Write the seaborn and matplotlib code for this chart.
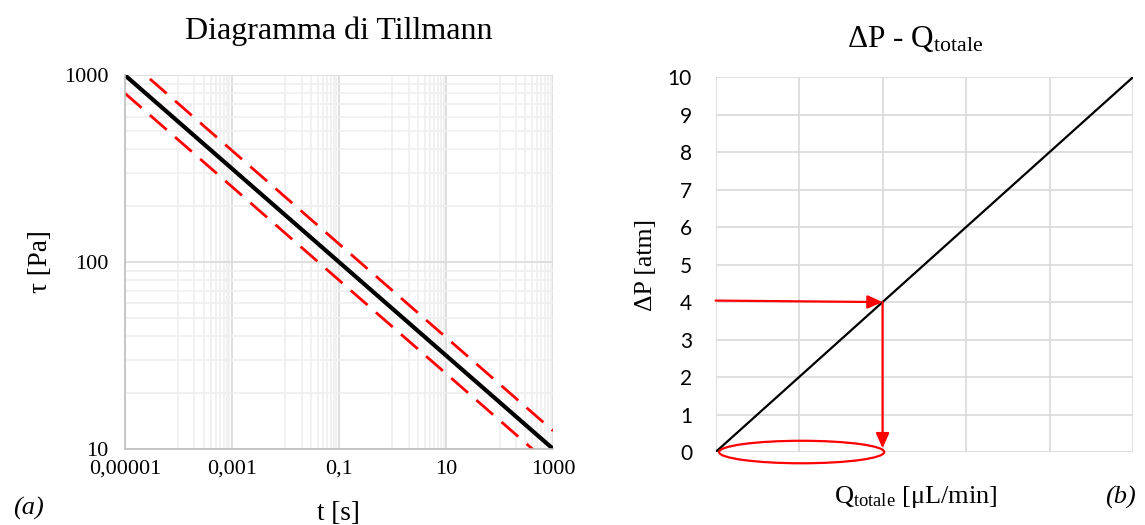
import numpy as np
import seaborn as sns
import matplotlib.pyplot as plt
import matplotlib.ticker as mticker
from matplotlib.patches import Ellipse

sns.set_style("white")
plt.rcParams['font.family'] = ['Liberation Serif', 'DejaVu Serif']
plt.rcParams['mathtext.fontset'] = 'custom'
plt.rcParams['mathtext.rm'] = 'Liberation Serif'
plt.rcParams['mathtext.it'] = 'Liberation Serif:italic'
plt.rcParams['text.color'] = 'black'
plt.rcParams['axes.labelcolor'] = 'black'
plt.rcParams['xtick.color'] = 'black'
plt.rcParams['ytick.color'] = 'black'

# (a) Tillmann diagram
t_ends = [1e-5, 1000]
tau_mid = [1000, 10]
tau_upper = [1250, 12.5]
tau_lower = [800, 8]
t_ticks = [1e-5, 1e-3, 1e-1, 10, 1000]
t_labels = ["0,00001", "0,001", "0,1", "10", "1000"]
tau_ticks = [10, 100, 1000]
tau_labels = ["10", "100", "1000"]

# (b) dP - Q
q_vals = [0, 5]
dp_vals = [0, 10]
q_op = 2
dp_op = 4
dp_ticks = list(range(0, 11))

fig = plt.figure(figsize=(11.45, 5.25), dpi=100)
ax1 = fig.add_axes([0.109, 0.145, 0.374, 0.712])
ax2 = fig.add_axes([0.625, 0.139, 0.3645, 0.714])

grid_major = "#d9d9d9"
grid_minor = "#efefef"

sns.lineplot(x=t_ends, y=tau_upper, ax=ax1, color="#ff0000", lw=2.0)
sns.lineplot(x=t_ends, y=tau_lower, ax=ax1, color="#ff0000", lw=2.0)
sns.lineplot(x=t_ends, y=tau_mid, ax=ax1, color="black", lw=3.0)
ax1.lines[0].set_dashes((8, 4))
ax1.lines[1].set_dashes((8, 4))
ax1.set_xscale("log")
ax1.set_yscale("log")
ax1.set_xlim(1e-5, 1000)
ax1.set_ylim(10, 1000)

# Excel-like log axis: major every two decades, minor 10x..90x of each major
x_minor = [m * 10 * k for m in t_ticks[:-1] for k in range(1, 10)]
ax1.xaxis.set_major_locator(mticker.FixedLocator(t_ticks))
ax1.xaxis.set_major_formatter(mticker.FixedFormatter(t_labels))
ax1.xaxis.set_minor_locator(mticker.FixedLocator(x_minor))
ax1.xaxis.set_minor_formatter(mticker.NullFormatter())
ax1.yaxis.set_major_locator(mticker.FixedLocator(tau_ticks))
ax1.yaxis.set_major_formatter(mticker.FixedFormatter(tau_labels))
ax1.yaxis.set_minor_locator(mticker.LogLocator(base=10, subs=np.arange(2, 10), numticks=100))
ax1.yaxis.set_minor_formatter(mticker.NullFormatter())
ax1.grid(True, which="minor", color=grid_minor, lw=1.2)
ax1.grid(True, which="major", color=grid_major, lw=1.2)
ax1.set_axisbelow(True)
ax1.tick_params(which="both", length=0, labelsize=16)
ax1.tick_params(axis="x", pad=8)
ax1.tick_params(axis="y", pad=12)
for s in ["top", "right"]:
    ax1.spines[s].set_visible(False)
for s in ["left", "bottom"]:
    ax1.spines[s].set_color("#bfbfbf")
    ax1.spines[s].set_linewidth(1.2)
ax1.set_title("Diagramma di Tillmann", fontsize=23, pad=26)
ax1.set_xlabel("t [s]", fontsize=19.5, labelpad=16)
ax1.set_ylabel("τ [Pa]", fontsize=19.5, labelpad=8)

sns.lineplot(x=q_vals, y=dp_vals, ax=ax2, color="black", lw=1.6)
ax2.set_xlim(0, 5)
ax2.set_ylim(0, 10)
ax2.set_yticks(dp_ticks)
ax2.set_xticks(np.arange(0, 6))
ax2.set_xticklabels([])
ax2.grid(True, color=grid_major, lw=1.2)
ax2.set_axisbelow(True)
ax2.tick_params(length=0, pad=17)
for lab in ax2.get_yticklabels():
    lab.set_family(["Lato", "DejaVu Sans"])
    lab.set_fontsize(15)
for s in ax2.spines.values():
    s.set_visible(False)
ax2.annotate("", xy=(q_op, dp_op), xytext=(0, dp_op + 0.04),
             arrowprops=dict(arrowstyle="-|>,head_length=0.9,head_width=0.4",
                             color="#ff0000", lw=1.6, shrinkA=0, shrinkB=0))
ax2.annotate("", xy=(q_op, 0.1), xytext=(q_op, dp_op),
             arrowprops=dict(arrowstyle="-|>,head_length=0.9,head_width=0.4",
                             color="#ff0000", lw=1.6, shrinkA=0, shrinkB=0))
ax2.add_patch(Ellipse((q_op / 2 + 0.03, 0.0), q_op - 0.02, 0.6, fill=False,
                      edgecolor="#ff0000", lw=1.6, clip_on=False, zorder=5))
ax2.set_title(r"ΔP - Q$_{\mathrm{totale}}$", fontsize=22.5, pad=22, x=0.478)
ax2.set_xlabel(r"Q$_{\mathrm{totale}}$ [μL/min]", fontsize=19, labelpad=6)
ax2.xaxis.label.set_x(0.48)
ax2.set_ylabel("ΔP [atm]", fontsize=18.5, labelpad=8)

fig.text(0.011, 0.02, "(a)", fontsize=19, style="italic")
fig.text(0.965, 0.04, "(b)", fontsize=19, style="italic")

fig.savefig("out.png", dpi=100)
